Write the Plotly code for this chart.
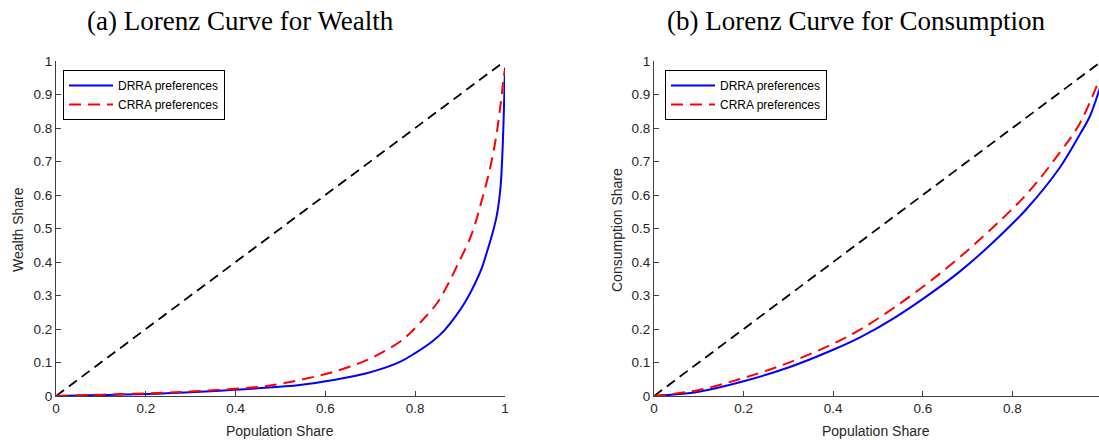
import plotly.graph_objects as go

# Wealth Lorenz curves (population share -> cumulative wealth share)
wealth_pop_drra = [0, 0.1, 0.2, 0.321, 0.45, 0.543, 0.618, 0.692, 0.766, 0.80, 0.84,
                   0.865, 0.889, 0.912, 0.933, 0.948, 0.961, 0.972, 0.981, 0.987, 0.991,
                   0.995, 0.9985, 1.0]
wealth_share_drra = [0, 0.003, 0.006, 0.013, 0.023, 0.033, 0.048, 0.068, 0.102, 0.128, 0.165,
                     0.196, 0.236, 0.282, 0.335, 0.381, 0.435, 0.485, 0.534, 0.585, 0.64,
                     0.75, 0.9, 0.98]
wealth_pop_crra = [0, 0.1, 0.2, 0.321, 0.469, 0.543, 0.618, 0.692, 0.766, 0.788, 0.82,
                   0.848, 0.87, 0.892, 0.926, 0.948, 0.967, 0.981, 0.991, 0.997, 1.0]
wealth_share_crra = [0, 0.004, 0.008, 0.015, 0.03, 0.048, 0.072, 0.107, 0.162, 0.187, 0.232,
                     0.276, 0.326, 0.385, 0.484, 0.583, 0.682, 0.78, 0.88, 0.95, 0.975]

# Consumption Lorenz curves
cons_pop_drra = [0, 0.1, 0.2, 0.3, 0.4, 0.46, 0.534, 0.609, 0.683, 0.757, 0.832,
                 0.906, 0.951, 0.973, 0.993, 1.0]
cons_share_drra = [0, 0.013, 0.044, 0.085, 0.138, 0.175, 0.231, 0.298, 0.372, 0.459, 0.559,
                   0.682, 0.782, 0.835, 0.91, 0.94]
cons_pop_crra = [0, 0.1, 0.2, 0.3, 0.4, 0.46, 0.534, 0.609, 0.683, 0.757, 0.832,
                 0.906, 0.951, 0.993, 1.0]
cons_share_crra = [0, 0.018, 0.054, 0.099, 0.156, 0.198, 0.262, 0.335, 0.415, 0.504, 0.603,
                   0.727, 0.815, 0.94, 0.96]

# Line of perfect equality
equality = [0, 1]

titles = ["(a) Lorenz Curve for Wealth", "(b) Lorenz Curve for Consumption"]
y_titles = ["Wealth Share", "Consumption Share"]
x_title = "Population Share"
series_names = ["DRRA preferences", "CRRA preferences"]

W, H = 1099, 440
BLUE = "#0000ff"
RED = "#ff0000"
AX = "#404040"
TXT = "#262626"
SANS = "Liberation Sans, Arial, sans-serif"

fig = go.Figure()

panels = [
    ("x", "y", "legend", wealth_pop_drra, wealth_share_drra, wealth_pop_crra, wealth_share_crra),
    ("x2", "y2", "legend2", cons_pop_drra, cons_share_drra, cons_pop_crra, cons_share_crra),
]
for xa, ya, lg, px1, py1, px2, py2 in panels:
    fig.add_trace(go.Scatter(x=equality, y=equality, mode="lines", xaxis=xa, yaxis=ya,
                             line=dict(color="black", width=1.8, dash="10px,6px"),
                             showlegend=False, hoverinfo="skip"))
    fig.add_trace(go.Scatter(x=px1, y=py1, mode="lines", name=series_names[0],
                             xaxis=xa, yaxis=ya, legend=lg,
                             line=dict(color=BLUE, width=2, shape="spline", smoothing=1.0)))
    fig.add_trace(go.Scatter(x=px2, y=py2, mode="lines", name=series_names[1],
                             xaxis=xa, yaxis=ya, legend=lg,
                             line=dict(color=RED, width=2, dash="12px,7px",
                                       shape="spline", smoothing=1.0)))

y_dom = [44 / H, 1 - 61 / H]
axis_common = dict(showline=True, linecolor=AX, linewidth=1, ticks="inside", ticklen=5,
                   tickcolor=AX, showgrid=False, zeroline=False,
                   tickfont=dict(family=SANS, size=13.5, color=TXT))
yticks = [i / 10 for i in range(11)]
ylabels = ["0"] + [f"{v:.1f}" for v in yticks[1:-1]] + ["1"]

legend_style = dict(xanchor="left", yanchor="top", bgcolor="white", bordercolor="black",
                    borderwidth=1, font=dict(family=SANS, size=12, color="black"),
                    tracegroupgap=0, itemwidth=44)

fig.update_layout(
    width=W, height=H,
    margin=dict(l=0, r=0, t=0, b=0, autoexpand=False),
    paper_bgcolor="white", plot_bgcolor="white",
    xaxis=dict(domain=[56 / W, 505 / W], range=[0, 1], anchor="y",
               tickvals=[0, 0.2, 0.4, 0.6, 0.8, 1], ticktext=["0", "0.2", "0.4", "0.6", "0.8", "1"],
               **axis_common),
    yaxis=dict(domain=y_dom, range=[0, 1], anchor="x", tickvals=yticks, ticktext=ylabels,
               **axis_common),
    xaxis2=dict(domain=[654 / W, 1.0], range=[0, 445 / 448], anchor="y2",
                tickvals=[0, 0.2, 0.4, 0.6, 0.8], ticktext=["0", "0.2", "0.4", "0.6", "0.8"],
                **axis_common),
    yaxis2=dict(domain=y_dom, range=[0, 1], anchor="x2", tickvals=yticks, ticktext=ylabels,
                **axis_common),
    legend=dict(x=63 / W, y=1 - 70 / H, **legend_style),
    legend2=dict(x=665 / W, y=1 - 70 / H, **legend_style),
)

serif = dict(family="Liberation Serif, Times New Roman, serif", size=27, color="black")
sans = dict(family=SANS, size=14, color=TXT)
ann = []
for cx, t in zip([240, 856], titles):
    ann.append(dict(x=cx / W, y=1 - 21 / H, xref="paper", yref="paper", text=t,
                    showarrow=False, font=serif, xanchor="center", yanchor="middle"))
for cx in [280, 876]:
    ann.append(dict(x=cx / W, y=1 - 431 / H, xref="paper", yref="paper", text=x_title,
                    showarrow=False, font=sans, xanchor="center", yanchor="middle"))
for cx, t in zip([18, 617], y_titles):
    ann.append(dict(x=cx / W, y=1 - 230 / H, xref="paper", yref="paper", text=t,
                    showarrow=False, font=sans, textangle=-90, xanchor="center", yanchor="middle"))
fig.update_layout(annotations=ann)

fig.write_html("out.html")
